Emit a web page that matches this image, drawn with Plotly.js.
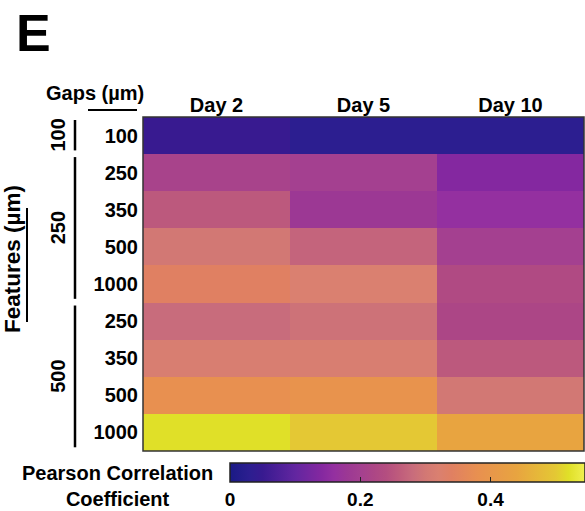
<!DOCTYPE html>
<html>
<head>
<meta charset="utf-8">
<script src="https://cdn.plot.ly/plotly-3.0.1.min.js"></script>
<style>html,body{margin:0;padding:0;background:#fff;}#chart{width:585px;height:511px;}</style>
</head>
<body>
<div id="chart"></div>
<script>
// ---- data ----
const days = ["Day 2", "Day 5", "Day 10"];
const gapLabels = ["100", "250", "350", "500", "1000", "250", "350", "500", "1000"];
const featureGroups = ["100", "250", "500"];
const groupStart = [0, 1, 5];
const groupEnd = [0, 4, 8];
// Pearson correlation coefficient, rows = gap rows (top to bottom), cols = days
const day2  = [0.05, 0.21, 0.255, 0.30, 0.34, 0.28, 0.315, 0.38, 0.52];
const day5  = [0.03, 0.20, 0.18,  0.27, 0.32, 0.29, 0.315, 0.39, 0.50];
const day10 = [0.03, 0.14, 0.16,  0.20, 0.23, 0.22, 0.255, 0.30, 0.44];
const cbTicks = [0, 0.2, 0.4];
const zMax = 0.545;
// colour scale stops (value, colour)
const scaleValues = [0.00, 0.03, 0.05, 0.10, 0.14, 0.16, 0.18, 0.20, 0.22, 0.24, 0.26, 0.28, 0.30, 0.32, 0.34, 0.38, 0.44, 0.50, 0.52, 0.545];
const scaleColors = ["#1a1a85", "#2c1e90", "#381a90", "#6226a0", "#8428a0", "#9430a0", "#9c3894", "#a44090", "#ac4686", "#b44e80", "#bf5c7c", "#c86c7c", "#d27874", "#da8070", "#e08062", "#e89050", "#e8a440", "#e4c834", "#e0e028", "#f0f050"];

// ---- build ----
const z = gapLabels.map((_, i) => [day2[i], day5[i], day10[i]]);
const colorscale = scaleValues.map((v, i) => [v / zMax, scaleColors[i]]);
const rowIdx = gapLabels.map((_, i) => i);

const W = 585, H = 511, L = 143, R = 1, T = 117, B = 60;
const pw = W - L - R, ph = H - T - B;
const px = x => (x - L) / pw;          // pixel -> paper x
const py = y => (H - B - y) / ph;      // pixel -> paper y

const font = {family: "Arial, 'Liberation Sans', sans-serif", size: 20, color: "#000", weight: "bold"};

const trace = {
  type: "heatmap",
  z: z,
  x: [0, 1, 2],
  y: rowIdx,
  zmin: 0, zmax: zMax,
  colorscale: colorscale,
  hoverongaps: false,
  colorbar: {
    orientation: "h",
    x: px(230), xanchor: "left",
    y: py(463), yanchor: "top",
    len: (W - 230) / pw, lenmode: "fraction",
    thickness: 19, thicknessmode: "pixels",
    xpad: 0, ypad: 0,
    outlinecolor: "#222", outlinewidth: 1.5,
    tickvals: cbTicks,
    ticktext: cbTicks.map(String),
    ticks: "inside", ticklen: 5, tickcolor: "#222", tickwidth: 1.5,
    tickfont: Object.assign({}, font, {size: 19})
  }
};

const annotations = [
  {text: "E", x: px(33), y: py(33), xref: "paper", yref: "paper", showarrow: false,
   font: Object.assign({}, font, {size: 52}), xanchor: "center", yanchor: "middle"},
  {text: "Gaps (µm)", x: px(95), y: py(93), xref: "paper", yref: "paper", showarrow: false,
   font: font, xanchor: "center", yanchor: "middle"},
  {text: "Features (µm)", x: px(12), y: py(259), xref: "paper", yref: "paper", showarrow: false,
   font: Object.assign({}, font, {size: 22.5}), textangle: -90, xanchor: "center", yanchor: "middle"},
  {text: "Pearson Correlation<br>Coefficient", x: px(117), y: py(486), xref: "paper", yref: "paper",
   showarrow: false, font: font, align: "center", xanchor: "center", yanchor: "middle"}
];
const shapes = [
  {type: "rect", xref: "paper", yref: "paper", x0: 0, x1: 1, y0: 0, y1: 1, line: {color: "#333", width: 1.5}},
  {type: "line", xref: "paper", yref: "paper", x0: px(88), x1: px(137), y0: py(110), y1: py(110), line: {color: "#000", width: 2}},
  {type: "line", xref: "paper", yref: "paper", x0: px(27), x1: px(27), y0: py(208), y1: py(322), line: {color: "#000", width: 2}}
];
featureGroups.forEach((g, k) => {
  annotations.push({text: g, x: px(58), y: (groupStart[k] + groupEnd[k]) / 2, xref: "paper", yref: "y",
    showarrow: false, font: font, textangle: -90, xanchor: "center", yanchor: "middle"});
  shapes.push({type: "line", xref: "paper", yref: "y", x0: px(75), x1: px(75),
    y0: groupStart[k] - 0.42, y1: groupEnd[k] + 0.4, line: {color: "#000", width: 2.5}});
});

const layout = {
  width: W, height: H,
  margin: {l: L, r: R, t: T, b: B, pad: 0, autoexpand: false},
  paper_bgcolor: "#fff", plot_bgcolor: "#fff",
  xaxis: {
    side: "top", tickvals: [0, 1, 2], ticktext: days, tickfont: font,
    showgrid: false, zeroline: false, showline: false, ticks: "", range: [-0.5, 2.5], fixedrange: true
  },
  yaxis: {
    tickvals: rowIdx, ticktext: gapLabels, tickfont: font, autorange: false, range: [8.5, -0.5],
    showgrid: false, zeroline: false, showline: false, ticks: "", ticklabelstandoff: 4, fixedrange: true
  },
  annotations: annotations,
  shapes: shapes,
  showlegend: false
};

Plotly.newPlot("chart", [trace], layout, {displayModeBar: false, staticPlot: true});
</script>
</body>
</html>
